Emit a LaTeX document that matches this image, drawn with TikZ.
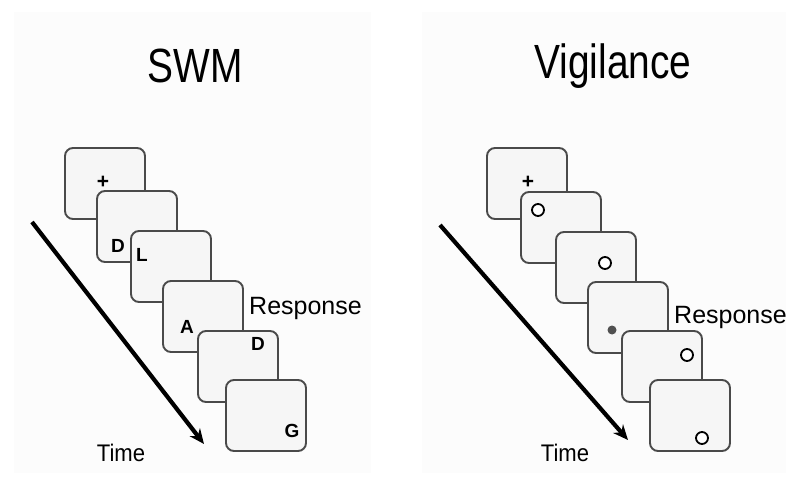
\documentclass[tikz,border=0pt]{standalone}
\usepackage{fontspec}
\setmainfont{Liberation Sans}
\usetikzlibrary{arrows.meta}
\definecolor{panelbg}{HTML}{FCFCFC}
\definecolor{cardfill}{HTML}{F6F6F6}
\definecolor{cardline}{HTML}{4A4A4A}
\definecolor{dotgray}{HTML}{505050}
\tikzset{
  card/.style={draw=cardline, line width=1.9pt, fill=cardfill, rounded corners=8pt,
    minimum width=80pt, minimum height=71pt, inner sep=0pt, outer sep=0pt},
  title/.style={font=\fontsize{48}{50}\selectfont, inner sep=0pt},
  label/.style={font=\fontsize{25}{27}\selectfont, inner sep=0pt},
  timelbl/.style={font=\fontsize{24}{26}\selectfont, inner sep=0pt},
  letter/.style={font=\fontsize{19}{21}\selectfont\bfseries, inner sep=0pt},
  plus/.style={font=\fontsize{21}{23}\selectfont\bfseries, inner sep=0pt},
  ring/.style={circle, draw=black, line width=1.8pt, fill=white, minimum size=12pt, inner sep=0pt},
  fdot/.style={circle, fill=dotgray, minimum size=9pt, inner sep=0pt},
  timearrow/.style={line width=4.2pt, -{Stealth[length=15pt,width=13pt]}},
  panel/.style={fill=panelbg, draw=none}
}
\begin{document}
\begin{tikzpicture}[x=1pt,y=-1pt]
\useasboundingbox[fill=white] (0,0) rectangle (800,494);
\fill[panel] (14,12) rectangle (371,473);
\fill[panel] (422,12) rectangle (786,473);

% titles
\node[title] (t1) at (195,66) {\scalebox{0.81}[1]{SWM}};
\node[title] (t2) at (613,66) {\scalebox{0.81}[1]{Vigilance}};

% left: time arrow
\coordinate (la1) at (32,222);
\coordinate (la2) at (204,444);
\draw[timearrow] (la1) -- (la2);

% left cards
\node[card] (l1) at (105,183.5) {};
\node[plus] (lp) at (103,182) {+};
\node[card] (l2) at (137,226.5) {};
\node[letter] (lD1) at (118,246) {D};
\node[card] (l3) at (171,266.5) {};
\node[letter] (lL) at (142,255) {L};
\node[card] (l4) at (203,316.5) {};
\node[letter] (lA) at (187,327) {A};
\node[card] (l5) at (238,366.5) {};
\node[letter] (lD2) at (258,344) {D};
\node[card] (l6) at (266,415.5) {};
\node[letter] (lG) at (292,431) {G};

\node[label, anchor=west] (lr) at (249,308) {Response};
\node[timelbl] (lt) at (121,453) {\scalebox{0.92}[1]{Time}};

% right: time arrow
\coordinate (ra1) at (440,225);
\coordinate (ra2) at (628,440);
\draw[timearrow] (ra1) -- (ra2);

% right cards
\node[card] (r1) at (527,183.5) {};
\node[plus] (rp) at (528,182) {+};
\node[card] (r2) at (561,227.5) {};
\node[ring] (rc2) at (538,210) {};
\node[card] (r3) at (596,267.5) {};
\node[ring] (rc3) at (605,263) {};
\node[card] (r4) at (628,317.5) {};
\node[fdot] (rd4) at (612,330) {};
\node[card] (r5) at (662,366.5) {};
\node[ring] (rc5) at (687,355) {};
\node[card] (r6) at (690,415.5) {};
\node[ring] (rc6) at (702,438) {};

\node[label, anchor=west] (rr) at (674,317) {Response};
\node[timelbl] (rt) at (565,453) {\scalebox{0.92}[1]{Time}};
\end{tikzpicture}
\end{document}
